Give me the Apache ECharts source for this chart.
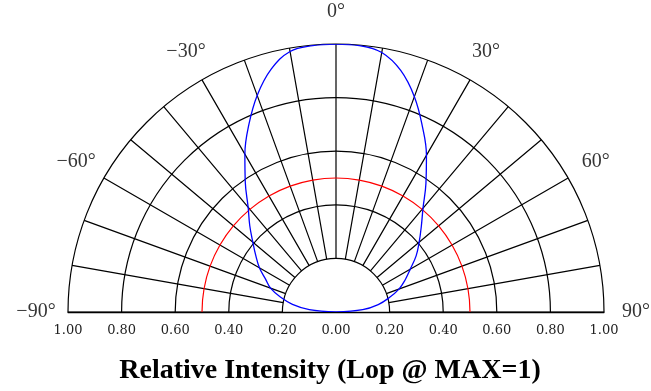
<!DOCTYPE html>
<html>
<head>
<meta charset="utf-8">
<script src="https://cdn.jsdelivr.net/npm/echarts@6/dist/echarts.min.js"></script>
<style>
  html, body { margin: 0; padding: 0; background: #fff; }
  #main { width: 651px; height: 391px; }
</style>
</head>
<body>
<div id="main"></div>
<script>
// radiation pattern, angle in degrees, relative intensity
var angles = [-90, -85, -80, -75, -70, -65, -60, -55, -50, -45, -40, -35, -30, -25, -20, -15, -10, -5,
  0, 5, 10, 15, 20, 25, 30, 35, 40, 45, 50, 55, 60, 65, 70, 75, 80, 85, 90];
var intensity = [0, 0.10, 0.165, 0.215, 0.26, 0.29, 0.33, 0.365, 0.405, 0.455, 0.51, 0.59, 0.68, 0.77, 0.86, 0.937, 0.987, 0.998,
  1.0, 0.998, 0.983, 0.933, 0.855, 0.763, 0.675, 0.585, 0.505, 0.45, 0.405, 0.365, 0.32, 0.285, 0.25, 0.205, 0.16, 0.10, 0];

// red reference circle
var refAngles = [-90, -80, -70, -60, -50, -40, -30, -20, -10, 0, 10, 20, 30, 40, 50, 60, 70, 80, 90];
var refLevel = 0.5;

var angleTicks = [-90, -60, -30, 0, 30, 60, 90];

var center = [336, 312];
var R = 268;

function degLabel(v) {
  return (v < 0 ? '\u2212' + (-v) : v) + '°';
}

var chart = echarts.init(document.getElementById('main'));

var option = {
  animation: false,
  backgroundColor: '#fff',
  title: {
    text: 'Relative Intensity (Lop @ MAX=1)',
    left: 330,
    textAlign: 'center',
    top: 357,
    padding: 0,
    textStyle: {
      fontFamily: 'Liberation Serif',
      fontWeight: 'bold',
      fontSize: 28,
      color: '#000'
    }
  },
  grid: {
    left: center[0] - R,
    right: 651 - center[0] - R,
    top: 200,
    bottom: 391 - center[1]
  },
  xAxis: {
    type: 'value',
    min: -1,
    max: 1,
    interval: 0.2,
    axisLine: { lineStyle: { color: '#000', width: 1.3 } },
    axisTick: { show: false },
    splitLine: { show: false },
    axisLabel: {
      margin: 12,
      fontFamily: 'DejaVu Serif',
      fontSize: 13,
      color: '#222',
      formatter: function (v) { return Math.abs(v).toFixed(2); }
    }
  },
  yAxis: { type: 'value', show: false, min: 0, max: 1 },
  polar: [
    { center: center, radius: [R * 0.2, R] },
    { center: center, radius: R },
    { center: center, radius: 300 }
  ],
  angleAxis: [
    {
      polarIndex: 0, type: 'value', min: -90, max: 90, interval: 10,
      startAngle: 180, endAngle: 0, clockwise: true,
      axisLine: { show: false }, axisTick: { show: false }, axisLabel: { show: false },
      splitLine: { show: true, lineStyle: { color: '#000', width: 1.2 } }
    },
    { polarIndex: 1, type: 'value', min: -90, max: 90, startAngle: 180, endAngle: 0, clockwise: true, show: false },
    { polarIndex: 2, type: 'value', min: -90, max: 90, startAngle: 180, endAngle: 0, clockwise: true, show: false }
  ],
  radiusAxis: [
    {
      polarIndex: 0, type: 'value', min: 0.2, max: 1, interval: 0.2,
      axisLine: { show: false }, axisTick: { show: false }, axisLabel: { show: false },
      splitLine: { show: true, lineStyle: { color: '#000', width: 1.2 } }
    },
    { polarIndex: 1, type: 'value', min: 0, max: 1, show: false },
    { polarIndex: 2, type: 'value', min: 0, max: 1, show: false }
  ],
  series: [
    {
      name: 'ref',
      type: 'line',
      coordinateSystem: 'polar',
      polarIndex: 1,
      smooth: true,
      symbol: 'none',
      lineStyle: { color: '#ff0000', width: 1.2 },
      data: refAngles.map(function (a) { return [refLevel, a]; })
    },
    {
      name: 'intensity',
      type: 'line',
      coordinateSystem: 'polar',
      polarIndex: 1,
      smooth: 0.4,
      symbol: 'none',
      lineStyle: { color: '#0000ff', width: 1.3 },
      data: angles.map(function (a, i) { return [intensity[i], a]; })
    },
    {
      name: 'angleLabels',
      type: 'scatter',
      coordinateSystem: 'polar',
      polarIndex: 2,
      silent: true,
      symbolSize: 0,
      itemStyle: { color: 'transparent' },
      label: {
        show: true,
        position: [0, 0],
        align: 'center',
        verticalAlign: 'middle',
        textBorderWidth: 0,
        fontFamily: 'Liberation Serif',
        fontSize: 20,
        color: '#000',
        formatter: function (p) { return degLabel(p.value[1]); }
      },
      data: angleTicks.map(function (a) { return [1, a]; })
    }
  ]
};

chart.setOption(option);
</script>
</body>
</html>
